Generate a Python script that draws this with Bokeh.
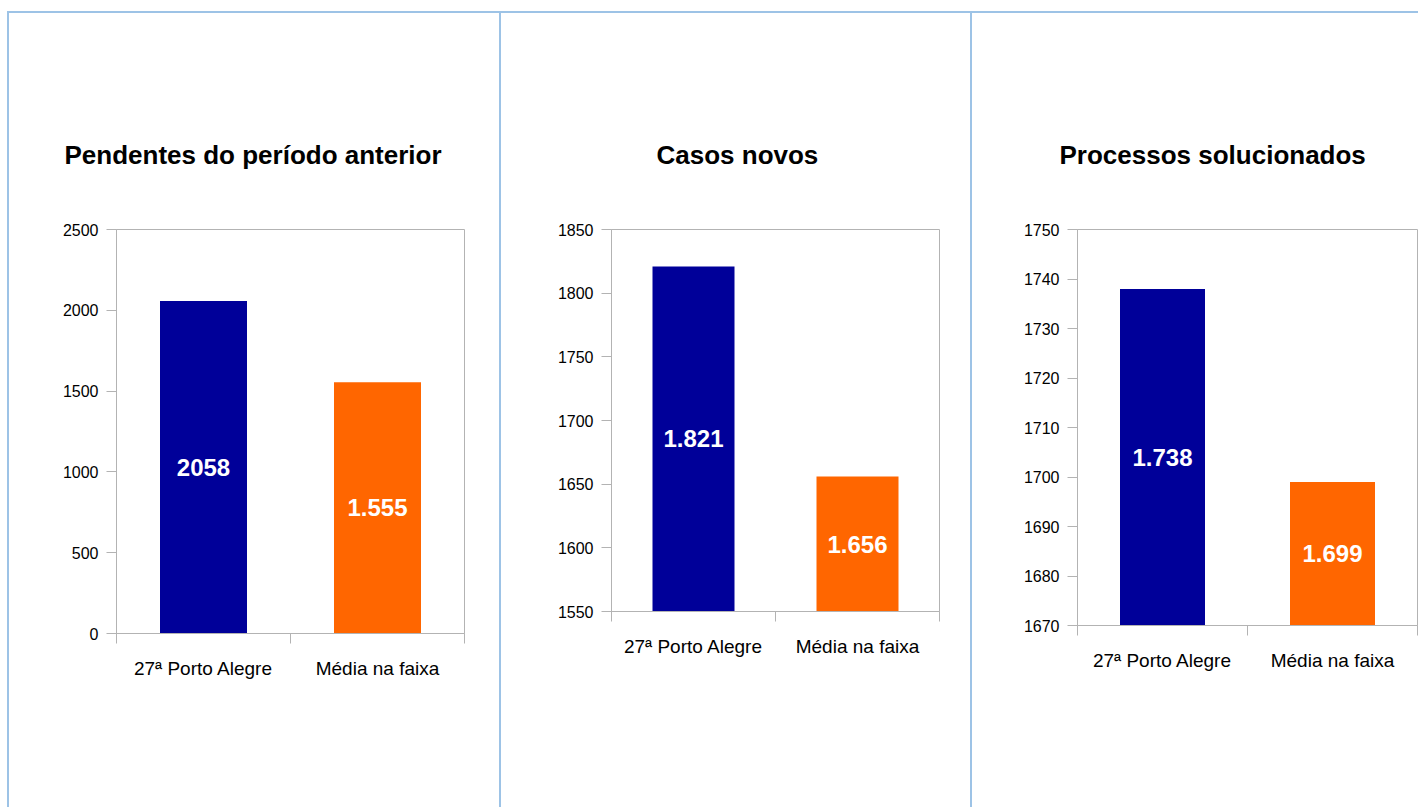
from bokeh.plotting import figure
from bokeh.models import FixedTicker, Title, Div, ColumnDataSource, Range1d
from bokeh.layouts import row, column
from bokeh.core.properties import value
from bokeh.embed import file_html
from bokeh.resources import INLINE

# ---- data ----
categories = ["27ª Porto Alegre", "Média na faixa"]
titles = ["Pendentes do período anterior", "Casos novos", "Processos solucionados"]
pendentes = [2058, 1555]
pendentes_labels = ["2058", "1.555"]
casos_novos = [1821, 1656]
casos_novos_labels = ["1.821", "1.656"]
solucionados = [1738, 1699]
solucionados_labels = ["1.738", "1.699"]
y_ticks_pendentes = [0, 500, 1000, 1500, 2000, 2500]
y_ticks_casos = [1550, 1600, 1650, 1700, 1750, 1800, 1850]
y_ticks_solucionados = [1670, 1680, 1690, 1700, 1710, 1720, 1730, 1740, 1750]
bar_colors = ["#000099", "#FF6600"]

FONT = "Liberation Sans"
GRAY = "#b3b3b3"
BLUE_LINE = "#9dc3e6"
BB = 100  # common bottom border


def panel(title, vals, labels, yticks, width, height, bl, br, title_offset):
    p = figure(width=width, height=height, output_backend="svg", toolbar_location=None,
               x_range=Range1d(0, 2), y_range=Range1d(yticks[0], yticks[-1]),
               min_border_left=bl, min_border_right=br, min_border_top=216, min_border_bottom=BB,
               background_fill_color="white", border_fill_color="white")
    p.title = None
    t = Title(text=title, align="left", text_font=FONT, text_font_size="26px",
              text_font_style="bold", text_color="#000000", standoff=120, offset=title_offset)
    p.add_layout(t, "above")
    p.xgrid.visible = False
    p.ygrid.visible = False
    p.outline_line_color = GRAY
    p.outline_line_width = 1

    xs = [i + 0.5 for i in range(len(categories))]
    base = yticks[0]
    src = ColumnDataSource(dict(x=xs, top=vals, color=bar_colors,
                                mid=[(base + v) / 2 for v in vals], label=labels))
    p.vbar(x="x", top="top", bottom=base, width=0.5, color="color", line_color=None, source=src)
    p.text(x="x", y="mid", text="label", source=src, text_align="center", text_baseline="middle",
           text_color="white", text_font=value(FONT), text_font_style="bold", text_font_size="24px")

    xa = p.xaxis[0]
    xa.ticker = FixedTicker(ticks=xs, minor_ticks=[0, 1, 2])
    xa.major_label_overrides = {x: c for x, c in zip(xs, categories)}
    xa.major_tick_out = 0
    xa.major_tick_in = 0
    xa.minor_tick_out = 10
    xa.minor_tick_in = 0
    xa.minor_tick_line_color = GRAY
    xa.axis_line_color = GRAY
    xa.major_label_text_font = FONT
    xa.major_label_text_font_size = "19px"
    xa.major_label_text_color = "#000000"
    xa.major_label_standoff = 14

    ya = p.yaxis[0]
    ya.ticker = FixedTicker(ticks=yticks, minor_ticks=[])
    ya.major_tick_out = 10
    ya.major_tick_in = 0
    ya.minor_tick_out = 0
    ya.minor_tick_in = 0
    ya.major_tick_line_color = GRAY
    ya.axis_line_color = GRAY
    ya.major_label_text_font = FONT
    ya.major_label_text_font_size = "16px"
    ya.major_label_text_color = "#000000"
    ya.major_label_standoff = 8
    return p


H = 794
TOP = 13
# frame bottoms (page y): 633, 611, 625
h1 = 633 - TOP + BB
h2 = 611 - TOP + BB
h3 = 625 - TOP + BB
p1 = panel(titles[0], pendentes, pendentes_labels, y_ticks_pendentes, 490, h1, 107, 35, -52)
p2 = panel(titles[1], casos_novos, casos_novos_labels, y_ticks_casos, 469, h2, 110, 31, 45)
p3 = panel(titles[2], solucionados, solucionados_labels, y_ticks_solucionados, 446, h3, 105, 1, -18)


def blank(w, h):
    return Div(text="", width=w, height=h, margin=0)


def line(w, h):
    return Div(text="", width=w, height=h, margin=0, styles={"background-color": BLUE_LINE})


layout = column(
    blank(1418, 11),
    row(blank(7, 2), line(1411, 2), spacing=0),
    row(blank(7, H), line(2, H),
        column(p1, blank(490, H - h1), spacing=0), line(2, H),
        column(p2, blank(469, H - h2), spacing=0), line(2, H),
        column(p3, blank(446, H - h3), spacing=0),
        spacing=0),
    spacing=0,
)

open("out.html", "w").write(file_html(layout, INLINE))
